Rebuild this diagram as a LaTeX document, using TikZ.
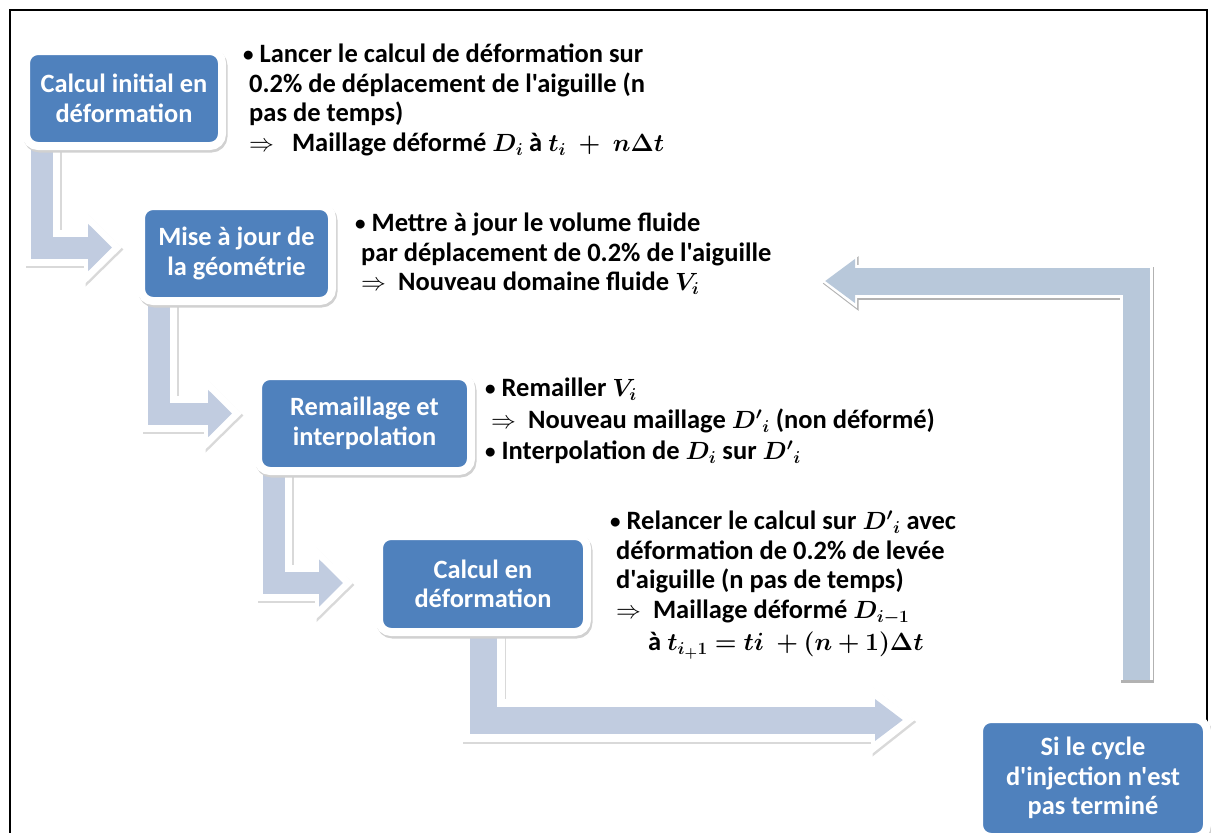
\documentclass[tikz,border=0pt]{standalone}
\usepackage{amsmath}
\usepackage{bm}
\usepackage{fontspec}
\setmainfont{Carlito}[Ligatures=TeXOff]
\usetikzlibrary{arrows.meta}
\pgfdeclarelayer{fond}
\pgfsetlayers{fond,main}
\definecolor{bleuboite}{HTML}{4F81BD}
\definecolor{bleufleche}{HTML}{C1CCE0}
\definecolor{bleuretour}{HTML}{B8C8DA}
\newcommand{\puce}{\raisebox{1.5pt}{\fontsize{21}{21}\selectfont•}}

\begin{document}
\begin{tikzpicture}[x=1pt,y=-1pt]
    \tikzstyle{etape}=[rectangle, rounded corners=12pt, fill=bleuboite, draw=white, line width=8pt, outer sep=0pt, inner sep=2pt,
        text=white, align=center, font=\fontsize{26.4}{29.5}\selectfont\bfseries,
        preaction={draw=black!18, fill=black!18, transform canvas={xshift=1.5pt,yshift=-2.5pt}}]
    \tikzstyle{texte}=[anchor=north west, inner sep=0pt, align=left, font=\fontsize{26.5}{29.5}\selectfont\bfseries]
    \tikzstyle{fleche}=[draw=bleufleche, line width=22pt, line join=miter, -{Triangle[length=24pt,width=46pt]}]
    \tikzstyle{bord}=[draw=white, line width=36pt, line join=miter, shorten >=-10pt, -{Triangle[length=38pt,width=72pt]}]
    \tikzstyle{ombre}=[bord, draw=black!15, transform canvas={xshift=1.5pt,yshift=-2pt}]
    \useasboundingbox (0,0) rectangle (1211,833);

    % etapes
    \node[etape, minimum width=196pt, minimum height=95pt] (b1) at (124,98.5) {Calcul initial en\\déformation};
    \node[etape, minimum width=191pt, minimum height=95pt] (b2) at (236.5,253.5) {Mise à jour de\\la géométrie};
    \node[etape, minimum width=213pt, minimum height=95pt] (b3) at (364.5,423.5) {Remaillage et\\interpolation};
    \node[etape, minimum width=208pt, minimum height=96pt] (b4) at (483,584) {Calcul en\\déformation};
    \begin{scope}
        \clip (0,0) rectangle (1211,833);
        \node[etape, minimum width=228pt, minimum height=118pt] (b5) at (1093,778) {Si le cycle\\d'injection n'est\\pas terminé};
    \end{scope}

    % textes
    \node[texte] (t1) at (243,44) {\puce\ Lancer le calcul de déformation sur\\
        \ 0.2\% de déplacement de l'aiguille (n\\
        \ pas de temps)\\
        \ $\Rightarrow$\ \ \ Maillage déformé $\bm{D_i}$ à $\bm{t_i\;+\;n\Delta t}$};
    \node[texte] (t2) at (355,213) {\puce\ Mettre à jour le volume fluide\\
        \ par déplacement de 0.2\% de l'aiguille\\
        \ $\Rightarrow$\ \ Nouveau domaine fluide $\bm{V_i}$};
    \node[texte] (t3) at (485,378) {\puce\ Remailler $\bm{V_i}$\\[2pt]
        \ $\Rightarrow$\ \ Nouveau maillage $\bm{D'{}_i}$ (non déformé)\\[2pt]
        \puce\ Interpolation de $\bm{D_i}$ sur $\bm{D'{}_i}$};
    \node[texte] (t4) at (610,511) {\puce\ Relancer le calcul sur $\bm{D'{}_i}$ avec\\
        \ déformation de 0.2\% de levée\\
        \ d'aiguille (n pas de temps)\\
        \ $\Rightarrow$\ \ Maillage déformé $\bm{D_{i-1}}$\\[3pt]
        \hspace*{38pt}à $\bm{t_{i_{+}1} = ti\;+(n+1)\Delta t}$};

    \coordinate (retour) at (825,281);

    \begin{pgfonlayer}{fond}
        \draw[line width=1.5pt] (10,833) -- (10,10) -- (1207,10) -- (1207,833);
        \foreach \depart/\dx/\arrivee/\ex/\ey in {b1/16/b2/-29/6, b2/18/b3/-26/10, b3/16/b4/-36/1}{
            \draw[ombre] ([xshift=\dx pt]\depart.south west) |- ([xshift=\ex pt,yshift=\ey pt]\arrivee.west);
            \draw[bord] ([xshift=\dx pt]\depart.south west) |- ([xshift=\ex pt,yshift=\ey pt]\arrivee.west);
            \draw[fleche] ([xshift=\dx pt]\depart.south west) |- ([xshift=\ex pt,yshift=\ey pt]\arrivee.west);
        }
        \draw[ombre, line width=43pt, shorten >=-12pt, -{Triangle[length=44pt,width=66pt]}] (b4.south) |- ([xshift=-76pt,yshift=-1pt]b5.north west);
        \draw[bord, line width=43pt, shorten >=-12pt, -{Triangle[length=44pt,width=66pt]}] (b4.south) |- ([xshift=-76pt,yshift=-1pt]b5.north west);
        \draw[fleche, line width=27pt, -{Triangle[length=28pt,width=40pt]}] (b4.south) |- ([xshift=-76pt,yshift=-1pt]b5.north west);
        % retour
        \draw[draw=black!30, line width=33pt, line join=miter, shorten >=-4pt, -{Triangle[length=36pt,width=52pt]}, transform canvas={xshift=1.5pt,yshift=-2.5pt}] ([xshift=-71pt,yshift=39pt]b5.north east) |- (retour);
        \draw[draw=white, line width=33pt, line join=miter, shorten >=-4pt, -{Triangle[length=36pt,width=52pt]}] ([xshift=-71pt,yshift=39pt]b5.north east) |- (retour);
        \draw[draw=bleuretour, line width=27pt, line join=miter, -{Triangle[length=30pt,width=42pt]}] ([xshift=-71pt,yshift=39pt]b5.north east) |- (retour);
    \end{pgfonlayer}
\end{tikzpicture}
\end{document}
